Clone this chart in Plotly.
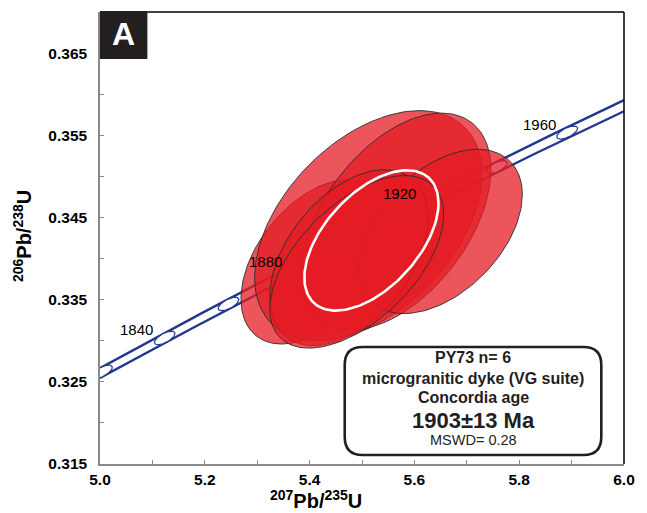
import numpy as np
import plotly.graph_objects as go

# Decay constants (per year) and the relative half-width of the concordia envelope
LAMBDA_238 = 1.55125e-10
LAMBDA_235 = 9.8485e-10
ENVELOPE_REL = 0.0016

# Zircon analyses: ratios, 2-sigma half-widths and error correlation
r207_235 = [5.410, 5.512, 5.565, 5.650, 5.475, 5.490]
r206_238 = [0.3396, 0.3440, 0.3445, 0.3433, 0.3401, 0.3396]
err207_235 = [0.141, 0.217, 0.181, 0.156, 0.151, 0.166]
err206_238 = [0.0100, 0.0140, 0.0132, 0.0100, 0.0107, 0.0105]
rho = [0.45, 0.45, 0.48, 0.45, 0.45, 0.55]

# Concordia age ellipse
conc_x, conc_y = 5.518, 0.3422
conc_ex, conc_ey, conc_rho = 0.128, 0.00854, 0.53

# Concordia age markers (Ma)
tick_ages = [1820, 1840, 1860, 1880, 1900, 1920, 1940, 1960]
labelled_ages = [1840, 1880, 1920, 1960]
curve_ages = np.linspace(1780, 2010, 400)

x_ticks = [5.0, 5.1, 5.2, 5.3, 5.4, 5.5, 5.6, 5.7, 5.8, 5.9, 6.0]
x_labels = ["5.0", "", "5.2", "", "5.4", "", "5.6", "", "5.8", "", "6.0"]
y_ticks = [0.315, 0.320, 0.325, 0.330, 0.335, 0.340, 0.345, 0.350, 0.355, 0.360, 0.365, 0.370]
y_labels = ["0.315", "", "0.325", "", "0.335", "", "0.345", "", "0.355", "", "0.365", ""]

sample_text = ["PY73 n= 6", "microgranitic dyke (VG suite)", "Concordia age"]
age_text = "1903±13 Ma"
mswd_text = "MSWD= 0.28"

X_RANGE = [5.0, 6.0]
Y_RANGE = [0.315, 0.370]
W, H = 647, 513
M = dict(l=100, r=16, t=12, b=49)
pw = W - M["l"] - M["r"]
ph = H - M["t"] - M["b"]
kx = pw / (X_RANGE[1] - X_RANGE[0])
ky = ph / (Y_RANGE[1] - Y_RANGE[0])

FONT = "Liberation Sans, Arial, sans-serif"
NAVY = "#22378e"
INK = "#231f20"
RED_FILL = "rgba(228,28,36,0.75)"


def px2paper(x, y):
    return (x - M["l"]) / pw, (H - M["b"] - y) / ph


def conc_xy(t_ma, rel=0.0):
    t = np.asarray(t_ma, dtype=float) * 1e6
    x = np.exp(LAMBDA_235 * t * (1 + rel)) - 1
    y = np.exp(LAMBDA_238 * t) - 1
    return x, y


def error_ellipse(cx, cy, ex, ey, r, n=160):
    th = np.linspace(0, 2 * np.pi, n)
    x = cx + ex * np.cos(th)
    y = cy + ey * (r * np.cos(th) + np.sqrt(1 - r * r) * np.sin(th))
    return x, y


fig = go.Figure()

# Concordia envelope
for rel in (-ENVELOPE_REL, ENVELOPE_REL):
    cx, cy = conc_xy(curve_ages, rel)
    fig.add_trace(go.Scatter(x=cx, y=cy, mode="lines",
                             line=dict(color=NAVY, width=2.4),
                             hoverinfo="skip", showlegend=False))

# Age markers on the concordia, drawn as small ellipses along the curve
for age in tick_ages:
    cx, cy = conc_xy(age)
    t = age * 1e6
    tx = kx * LAMBDA_235 * np.exp(LAMBDA_235 * t)
    ty = ky * LAMBDA_238 * np.exp(LAMBDA_238 * t)
    nrm = np.hypot(tx, ty)
    tx, ty = tx / nrm, ty / nrm
    th = np.linspace(0, 2 * np.pi, 80)
    a, b = 11.5, 4.6
    px = a * np.cos(th) * tx - b * np.sin(th) * ty
    py = a * np.cos(th) * ty + b * np.sin(th) * tx
    fig.add_trace(go.Scatter(x=cx + px / kx, y=cy + py / ky, mode="lines",
                             line=dict(color=NAVY, width=1.2),
                             fill="toself", fillcolor="white",
                             hoverinfo="skip", showlegend=False))

# Analyses
for cx, cy, ex, ey, r in zip(r207_235, r206_238, err207_235, err206_238, rho):
    ex_, ey_ = error_ellipse(cx, cy, ex, ey, r)
    fig.add_trace(go.Scatter(x=ex_, y=ey_, mode="lines", fill="toself",
                             fillcolor=RED_FILL,
                             line=dict(color="rgba(45,45,45,0.9)", width=1),
                             hoverinfo="skip", showlegend=False))

# Concordia age ellipse
wx, wy = error_ellipse(conc_x, conc_y, conc_ex, conc_ey, conc_rho)
fig.add_trace(go.Scatter(x=wx, y=wy, mode="lines",
                         line=dict(color="white", width=2.6),
                         hoverinfo="skip", showlegend=False))

annotations = []
for age in labelled_ages:
    cx, cy = conc_xy(age)
    annotations.append(dict(x=float(cx), y=float(cy), xref="x", yref="y",
                            text=str(age), showarrow=False,
                            xanchor="center", yanchor="middle",
                            xshift=-28, yshift=8,
                            font=dict(family=FONT, size=15, color="black")))

# Result box text
box_cx = px2paper(478, 0)[0]
line_y = [357, 378, 397, 420, 440]
texts = [f"<b>{s}</b>" for s in sample_text] + [f"<b>{age_text}</b>", mswd_text]
sizes = [16, 16, 16, 22, 14.5]
for txt, yy, sz in zip(texts, line_y, sizes):
    annotations.append(dict(x=box_cx, y=px2paper(0, yy)[1],
                            xref="paper", yref="paper", text=txt, showarrow=False,
                            xanchor="center", yanchor="middle",
                            font=dict(family=FONT, size=sz, color=INK)))

# Axis titles
tx_, ty_ = px2paper(319, 499)
annotations.append(dict(x=tx_, y=ty_, xref="paper", yref="paper", showarrow=False,
                        xanchor="center", yanchor="middle",
                        text="<b><sup>207</sup>Pb/<sup>235</sup>U</b>",
                        font=dict(family=FONT, size=20, color="black")))
tx_, ty_ = px2paper(21, 236)
annotations.append(dict(x=tx_, y=ty_, xref="paper", yref="paper", showarrow=False,
                        xanchor="center", yanchor="middle", textangle=-90,
                        text="<b><sup>206</sup>Pb/<sup>238</sup>U</b>",
                        font=dict(family=FONT, size=20, color="black")))

# Panel letter
tx_, ty_ = px2paper(124, 34)
annotations.append(dict(x=tx_, y=ty_, xref="paper", yref="paper", showarrow=False,
                        text="<b>A</b>", xanchor="center", yanchor="middle",
                        font=dict(family=FONT, size=32, color="white")))

# Rounded result box
bx0, by0 = px2paper(348, 347)
bx1, by1 = px2paper(608, 455)
rx, ry = 18 / pw, 18 / ph
box_path = (f"M {bx0 + rx},{by0} L {bx1 - rx},{by0} Q {bx1},{by0} {bx1},{by0 - ry} "
            f"L {bx1},{by1 + ry} Q {bx1},{by1} {bx1 - rx},{by1} "
            f"L {bx0 + rx},{by1} Q {bx0},{by1} {bx0},{by1 + ry} "
            f"L {bx0},{by0 - ry} Q {bx0},{by0} {bx0 + rx},{by0} Z")

shapes = [
    dict(type="path", xref="paper", yref="paper", path=box_path,
         line=dict(color=INK, width=2.6), fillcolor="white", layer="above"),
    # top and right frame
    dict(type="line", xref="paper", yref="paper", x0=0, x1=1, y0=1, y1=1,
         line=dict(color="black", width=1.5)),
    dict(type="line", xref="paper", yref="paper", x0=1, x1=1, y0=0, y1=1,
         line=dict(color="black", width=1.5)),
    # panel letter background
    dict(type="rect", xref="paper", yref="paper",
         x0=0, x1=48 / pw, y0=px2paper(0, 59)[1], y1=px2paper(0, 11)[1],
         fillcolor=INK, line=dict(width=0), layer="above"),
]

axis_common = dict(showgrid=False, zeroline=False, showline=True,
                   linecolor="#8a8a8a", linewidth=1.5,
                   ticks="inside", ticklen=4, tickcolor="#8a8a8a", tickwidth=1,
                   tickfont=dict(family=FONT, size=15.5, color="black", weight="bold"))

fig.update_layout(
    width=W, height=H, margin=M,
    paper_bgcolor="white", plot_bgcolor="white",
    xaxis=dict(range=X_RANGE, tickmode="array", tickvals=x_ticks, ticktext=x_labels,
               ticklabelstandoff=1, **axis_common),
    yaxis=dict(range=Y_RANGE, tickmode="array", tickvals=y_ticks, ticktext=y_labels,
               ticklabelstandoff=8, **axis_common),
    annotations=annotations,
    shapes=shapes,
    showlegend=False,
)

fig.write_html("out.html")
